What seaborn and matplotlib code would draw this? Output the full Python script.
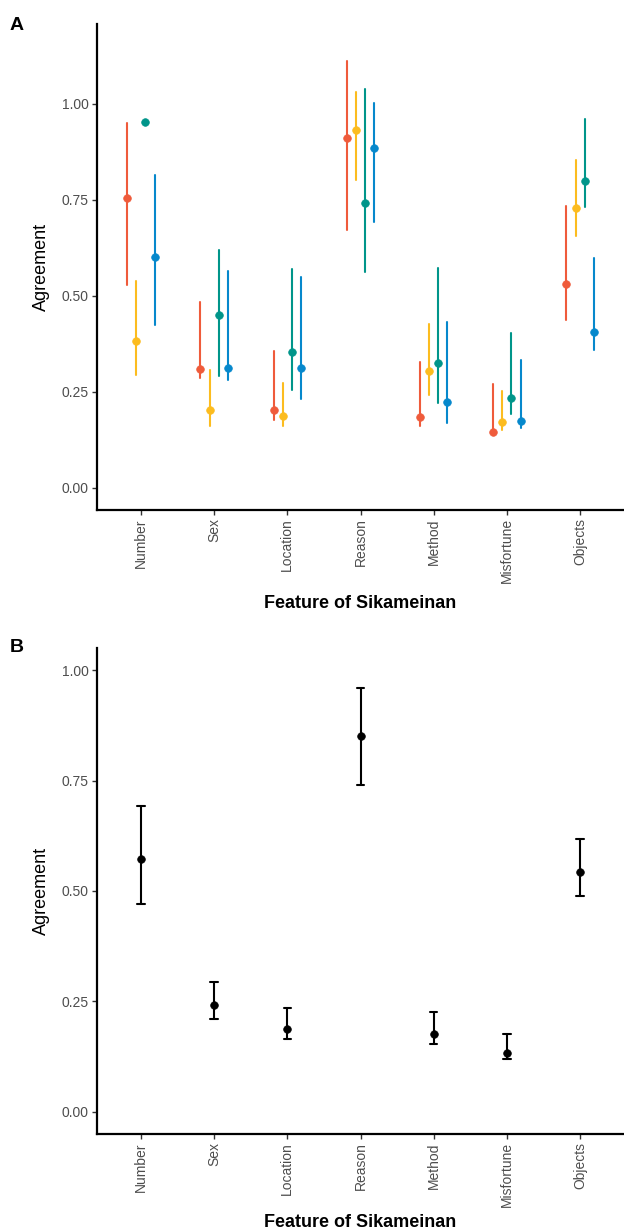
import matplotlib
matplotlib.use("Agg")
import matplotlib.pyplot as plt
import seaborn as sns
import pandas as pd

# Features on the x axis
features = ['Number', 'Sex', 'Location', 'Reason', 'Method', 'Misfortune', 'Objects']

# Panel A: four groups (point estimate, lower, upper)
groups = ['Group 1', 'Group 2', 'Group 3', 'Group 4']
colors = ['#EF5B3B', '#FCBC1F', '#00958A', '#0688CC']

g1_mean = [0.754, 0.310, 0.203, 0.911, 0.184, 0.146, 0.531]
g1_lo = [0.529, 0.287, 0.177, 0.672, 0.161, 0.144, 0.436]
g1_hi = [0.951, 0.484, 0.357, 1.110, 0.328, 0.271, 0.734]

g2_mean = [0.383, 0.203, 0.186, 0.931, 0.304, 0.171, 0.729]
g2_lo = [0.294, 0.161, 0.161, 0.802, 0.242, 0.151, 0.655]
g2_hi = [0.539, 0.307, 0.274, 1.030, 0.427, 0.253, 0.854]

g3_mean = [0.953, 0.450, 0.355, 0.741, 0.325, 0.235, 0.798]
g3_lo = [0.953, 0.292, 0.255, 0.563, 0.222, 0.193, 0.730]
g3_hi = [0.953, 0.620, 0.570, 1.039, 0.572, 0.403, 0.961]

g4_mean = [0.601, 0.312, 0.312, 0.884, 0.223, 0.173, 0.405]
g4_lo = [0.424, 0.281, 0.232, 0.693, 0.170, 0.157, 0.358]
g4_hi = [0.815, 0.565, 0.549, 1.003, 0.432, 0.333, 0.599]

# Panel B: overall
all_mean = [0.572, 0.243, 0.188, 0.851, 0.177, 0.134, 0.542]
all_lo = [0.471, 0.211, 0.165, 0.741, 0.153, 0.119, 0.489]
all_hi = [0.693, 0.294, 0.235, 0.959, 0.226, 0.176, 0.618]

yticks = [0.0, 0.25, 0.5, 0.75, 1.0]


def long_rows(feat, mean, lo, hi, group=None):
    # three rows per feature so that median = estimate, min/max = interval
    rows = []
    for f, m, l, h in zip(feat, mean, lo, hi):
        for v in (l, m, h):
            rows.append({'Feature': f, 'Agreement': v, 'Group': group})
    return rows


rows_a = []
for g, m, l, h in zip(groups, [g1_mean, g2_mean, g3_mean, g4_mean],
                      [g1_lo, g2_lo, g3_lo, g4_lo], [g1_hi, g2_hi, g3_hi, g4_hi]):
    rows_a += long_rows(features, m, l, h, g)
df_a = pd.DataFrame(rows_a)
df_b = pd.DataFrame(long_rows(features, all_mean, all_lo, all_hi))

sns.set_theme(style='ticks')
plt.rcParams['font.family'] = ['Liberation Sans', 'DejaVu Sans']
plt.rcParams['axes.labelcolor'] = 'black'
plt.rcParams['text.color'] = 'black'

fig = plt.figure(figsize=(6.24, 12.32), dpi=100)
ax_a = fig.add_axes([97 / 624, 1 - 510 / 1232, 527 / 624, 486 / 1232])
ax_b = fig.add_axes([97 / 624, 1 - 1134 / 1232, 527 / 624, 486 / 1232])

sns.pointplot(data=df_a, x='Feature', y='Agreement', hue='Group', order=features,
              hue_order=groups, palette=colors, estimator='median',
              errorbar=('pi', 100), dodge=0.375, linestyle='none', markers='o',
              markersize=5.5, markeredgewidth=0.5, err_kws={'linewidth': 1.5},
              legend=False, ax=ax_a)

sns.pointplot(data=df_b, x='Feature', y='Agreement', order=features, color='black',
              estimator='median', errorbar=('pi', 100), capsize=0.1,
              linestyle='none', markers='o', markersize=5.5, markeredgewidth=0.5,
              err_kws={'linewidth': 1.5}, ax=ax_b)

for ax, ylim, xpad in [(ax_a, (-0.0575, 1.2075), 8), (ax_b, (-0.05, 1.05), 5)]:
    ax.set_ylim(*ylim)
    ax.set_xlim(-0.6, 6.6)
    ax.set_yticks(yticks)
    ax.set_yticklabels([f'{t:.2f}' for t in yticks])
    ax.tick_params(axis='x', labelrotation=90)
    ax.tick_params(labelsize=10, labelcolor='#4D4D4D', color='#333333',
                   length=3.5, width=1.0, pad=2.5)
    for s in ['top', 'right']:
        ax.spines[s].set_visible(False)
    for s in ['left', 'bottom']:
        ax.spines[s].set_linewidth(1.6)
        ax.spines[s].set_color('black')
    ax.set_xlabel('Feature of Sikameinan', fontsize=13, fontweight='bold',
                  labelpad=xpad, color='black')
    ax.set_ylabel('Agreement', fontsize=13, labelpad=8, color='black')
    ax.grid(False)

fig.text(10 / 624, 1 - 25 / 1232, 'A', fontsize=14, fontweight='bold',
         va='center', color='black')
fig.text(10 / 624, 1 - 648 / 1232, 'B', fontsize=14, fontweight='bold',
         va='center', color='black')

fig.savefig('out.png', dpi=100)
